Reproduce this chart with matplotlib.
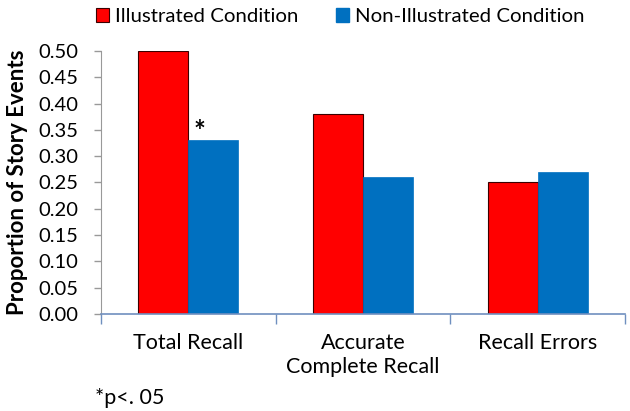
import matplotlib
matplotlib.use("Agg")
import matplotlib.pyplot as plt
from matplotlib.patches import Patch
import numpy as np

categories = ["Total Recall", "Accurate\nComplete Recall", "Recall Errors"]
illustrated = [0.50, 0.38, 0.25]
non_illustrated = [0.33, 0.26, 0.27]
series_names = ["Illustrated Condition", "Non-Illustrated Condition"]
yticks = [0.00, 0.05, 0.10, 0.15, 0.20, 0.25, 0.30, 0.35, 0.40, 0.45, 0.50]

plt.rcParams['font.family'] = ['Lato', 'DejaVu Sans']

fig = plt.figure(figsize=(6.3, 4.11), dpi=100)
ax = fig.add_axes([0.160, 0.236, 0.832, 0.640])

red = "#FF0000"
blue = "#0070C0"
x = np.arange(len(categories))
w = 0.286
ax.bar(x - w/2, illustrated, w, color=red, edgecolor="#3a0000", linewidth=0.8, zorder=2)
ax.bar(x + w/2, non_illustrated, w, color=blue, edgecolor=blue, linewidth=0.5, zorder=2)

ax.set_xlim(-0.5, len(categories) - 0.5)
ax.set_ylim(0, 0.50)
ax.set_yticks(yticks)
ax.set_yticklabels([f"{v:.2f}" for v in yticks], fontsize=14.5)
ax.set_xticks(x)
ax.set_xticklabels(categories, fontsize=15.5, linespacing=1.25)
ax.tick_params(axis='x', length=0, pad=14)
ax.set_xticks([-0.5, 0.5, 1.5, 2.5], minor=True)
ax.tick_params(axis='x', which='minor', length=7, color="#6f8fbf", width=1)
ax.tick_params(axis='y', length=5, color="#999999", width=1, pad=11)

for s in ["top", "right"]:
    ax.spines[s].set_visible(False)
ax.spines["left"].set_color("#999999")
ax.spines["bottom"].set_color("#6f8fbf")
ax.spines["bottom"].set_linewidth(1.2)

ax.set_ylabel("Proportion of Story Events", fontsize=16, fontweight="bold")
ax.yaxis.set_label_coords(-0.138, 0.5)

ax.text(x[0] + 0.063, non_illustrated[0] - 0.008, "*", fontsize=20,
        fontweight="bold", ha="center", va="bottom", zorder=3)

handles = [Patch(facecolor=red, edgecolor="#3a0000", linewidth=0.8),
           Patch(facecolor=blue, edgecolor=blue)]
fig.legend(handles, series_names, loc="upper center", bbox_to_anchor=(0.54, 1.025),
           ncol=2, frameon=False, fontsize=14.7, handlelength=0.65, handleheight=0.7,
           handletextpad=0.3, columnspacing=1.8)

fig.text(95/630, 1 - 398/411, "*p<. 05", fontsize=15.5, ha="left", va="center")

fig.savefig("out.png", dpi=100)
